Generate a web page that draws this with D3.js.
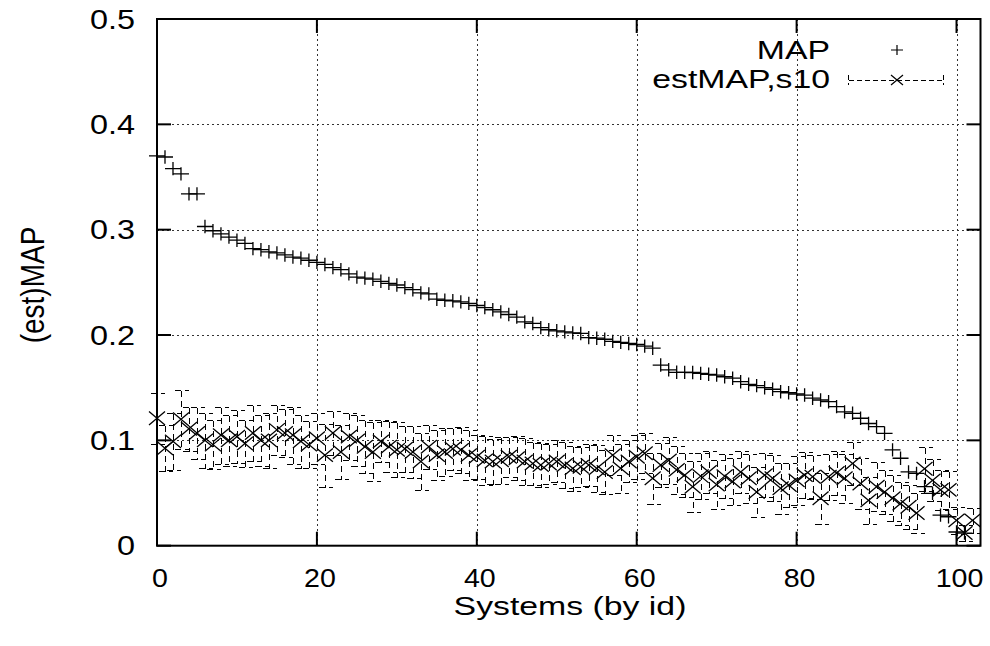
<!DOCTYPE html>
<html>
<head>
<meta charset="utf-8">
<script src="https://cdn.jsdelivr.net/npm/d3@7"></script>
<style>
body { margin: 0; background: #fff; }
text { font-family: "Liberation Sans", Arial, Helvetica, sans-serif; fill: #000; }
</style>
</head>
<body>
<script>
// MAP per system, sorted descending (x = system id)
const mapValues = [
  0.370, 0.369, 0.358, 0.353, 0.334, 0.334, 0.303, 0.299, 0.296, 0.293,
  0.290, 0.287, 0.282, 0.281, 0.279, 0.278, 0.276, 0.274, 0.273, 0.271,
  0.269, 0.267, 0.264, 0.262, 0.258, 0.255, 0.254, 0.253, 0.251, 0.249,
  0.2475, 0.245, 0.243, 0.240, 0.239, 0.234, 0.233, 0.2325, 0.2315, 0.230,
  0.228, 0.226, 0.224, 0.222, 0.2195, 0.217, 0.2125, 0.211, 0.207, 0.205,
  0.204, 0.203, 0.202, 0.2015, 0.1975, 0.197, 0.196, 0.194, 0.193, 0.192,
  0.191, 0.1895, 0.1875, 0.1715, 0.167, 0.1646, 0.1645, 0.1644, 0.1636, 0.1627,
  0.162, 0.1604, 0.159, 0.1557, 0.1532, 0.152, 0.150, 0.1485, 0.1462, 0.1452,
  0.144, 0.143, 0.140, 0.1383, 0.1367, 0.132, 0.127, 0.1257, 0.121, 0.116,
  0.113, 0.1067, 0.091, 0.083, 0.070, 0.0687, 0.056, 0.0497, 0.029, 0.0275,
  0.013, 0.012
];

// estimated MAP (sample 10) per system
const estValues = [
  0.121, 0.0925, 0.099, 0.120, 0.111, 0.107, 0.100, 0.096, 0.105, 0.100,
  0.1035, 0.097, 0.107, 0.100, 0.100, 0.110, 0.107, 0.105, 0.099, 0.096,
  0.102, 0.086, 0.107, 0.089, 0.1035, 0.100, 0.094, 0.089, 0.099, 0.094,
  0.091, 0.092, 0.089, 0.080, 0.094, 0.086, 0.089, 0.092, 0.091, 0.086,
  0.0845, 0.081, 0.080, 0.081, 0.0845, 0.083, 0.080, 0.078, 0.0766, 0.078,
  0.080, 0.0766, 0.0734, 0.075, 0.0766, 0.0734, 0.070, 0.086, 0.0734, 0.080,
  0.0845, 0.0877, 0.064, 0.0766, 0.081, 0.072, 0.067, 0.056, 0.066, 0.070,
  0.058, 0.066, 0.061, 0.070, 0.064, 0.051, 0.067, 0.064, 0.0545, 0.0576,
  0.062, 0.067, 0.0655, 0.045, 0.0655, 0.069, 0.064, 0.078, 0.059, 0.043,
  0.056, 0.051, 0.045, 0.040, 0.037, 0.031, 0.073, 0.062, 0.053, 0.053,
  0.024, 0.012, 0.024
];

// half-width of the error bar on estMAP
const estErr = [
  0.024, 0.022, 0.027, 0.028, 0.021, 0.025, 0.026, 0.023, 0.027, 0.024,
  0.025, 0.022, 0.027, 0.024, 0.026, 0.024, 0.023, 0.027, 0.025, 0.022,
  0.024, 0.030, 0.021, 0.026, 0.022, 0.024, 0.025, 0.028, 0.020, 0.024,
  0.026, 0.022, 0.025, 0.027, 0.021, 0.024, 0.023, 0.020, 0.022, 0.024,
  0.021, 0.023, 0.021, 0.022, 0.019, 0.021, 0.022, 0.020, 0.021, 0.019,
  0.020, 0.022, 0.021, 0.019, 0.020, 0.022, 0.021, 0.019, 0.023, 0.020,
  0.021, 0.019, 0.024, 0.021, 0.022, 0.023, 0.021, 0.024, 0.022, 0.020,
  0.023, 0.021, 0.022, 0.020, 0.023, 0.024, 0.021, 0.022, 0.024, 0.021,
  0.023, 0.022, 0.021, 0.024, 0.022, 0.021, 0.023, 0.020, 0.024, 0.022,
  0.023, 0.021, 0.022, 0.020, 0.021, 0.019, 0.021, 0.020, 0.019, 0.018,
  0.013, 0.008, 0.012
];

const xTicks = [0, 20, 40, 60, 80, 100];
const yTicks = [0, 0.1, 0.2, 0.3, 0.4, 0.5];
const legendLabels = ['MAP', 'estMAP,s10'];

const width = 990, height = 646;
const plot = { left: 157, right: 980.5, top: 19, bottom: 545.7 };

const svg = d3.select('body').append('svg')
  .attr('width', width)
  .attr('height', height);

const x = d3.scaleLinear().domain([0, 103]).range([plot.left, plot.right]);
const y = d3.scaleLinear().domain([0, 0.5]).range([plot.bottom, plot.top]);

// grid
const grid = svg.append('g').attr('class', 'grid')
  .attr('stroke', '#333').attr('stroke-width', 1).attr('stroke-dasharray', '2,3');
grid.selectAll('line.gx')
  .data(xTicks.filter(d => d > 0))
  .enter().append('line')
  .attr('x1', d => Math.round(x(d)) + 0.5).attr('x2', d => Math.round(x(d)) + 0.5)
  .attr('y1', plot.top).attr('y2', plot.bottom);
grid.selectAll('line.gy')
  .data(yTicks.filter(d => d > 0 && d < 0.5))
  .enter().append('line')
  .attr('y1', d => Math.round(y(d)) + 0.5).attr('y2', d => Math.round(y(d)) + 0.5)
  .attr('x1', plot.left).attr('x2', plot.right);

// tick marks on all four sides, pointing inward
const tickLen = 14;
const ticks = svg.append('g').attr('stroke', '#000').attr('stroke-width', 2);
xTicks.forEach(d => {
  ticks.append('line').attr('x1', x(d)).attr('x2', x(d)).attr('y1', plot.bottom).attr('y2', plot.bottom - tickLen);
  ticks.append('line').attr('x1', x(d)).attr('x2', x(d)).attr('y1', plot.top).attr('y2', plot.top + tickLen);
});
yTicks.forEach(d => {
  ticks.append('line').attr('y1', y(d)).attr('y2', y(d)).attr('x1', plot.left).attr('x2', plot.left + tickLen);
  ticks.append('line').attr('y1', y(d)).attr('y2', y(d)).attr('x1', plot.right).attr('x2', plot.right - tickLen);
});

// error bars for estMAP (dashed, with caps)
const capW = 7;
const estData = estValues.map((v, i) => ({ id: i, v, e: estErr[i] }));
svg.append('g').attr('class', 'errorbars')
  .attr('shape-rendering', 'crispEdges')
  .selectAll('path')
  .data(estData)
  .enter().append('path')
  .attr('fill', 'none')
  .attr('stroke', '#000')
  .attr('stroke-width', 1)
  .attr('stroke-dasharray', '6,4')
  .attr('d', d => {
    const cx = Math.round(x(d.id)) + 0.5;
    const top = Math.round(y(d.v + d.e)) + 0.5, bot = Math.round(y(d.v - d.e)) + 0.5;
    return `M${cx - capW},${top}H${cx + capW}M${cx},${top}V${bot}M${cx - capW},${bot}H${cx + capW}`;
  });

const plusPath = 'M-8,0H8M0,-6.7V6.7';
const crossPath = 'M-8,-6.7L8,6.7M-8,6.7L8,-6.7';

// estMAP markers
svg.append('g').attr('class', 'est')
  .selectAll('path')
  .data(estData)
  .enter().append('path')
  .attr('d', crossPath)
  .attr('transform', d => `translate(${x(d.id)},${y(d.v)})`)
  .attr('fill', 'none').attr('stroke', '#000').attr('stroke-width', 1.3);

// MAP markers
svg.append('g').attr('class', 'map')
  .selectAll('path')
  .data(mapValues)
  .enter().append('path')
  .attr('d', plusPath)
  .attr('transform', (d, i) => `translate(${x(i)},${y(d)})`)
  .attr('fill', 'none').attr('stroke', '#000').attr('stroke-width', 1.3);

// frame
svg.append('rect')
  .attr('x', plot.left).attr('y', plot.top)
  .attr('width', plot.right - plot.left).attr('height', plot.bottom - plot.top)
  .attr('fill', 'none').attr('stroke', '#000').attr('stroke-width', 2);

// tick labels
svg.append('g').selectAll('text')
  .data(yTicks)
  .enter().append('text')
  .attr('transform', d => `translate(135,${y(d)}) scale(1.2,1)`)
  .attr('dy', '0.36em')
  .attr('text-anchor', 'end')
  .style('font-size', '27px')
  .text(d => d3.format('')(d));

svg.append('g').selectAll('text')
  .data(xTicks)
  .enter().append('text')
  .attr('transform', d => `translate(${x(d) + 3},587) scale(1.1,1)`)
  .attr('text-anchor', 'middle')
  .style('font-size', '26px')
  .text(d => d);

// axis titles
svg.append('text')
  .attr('transform', 'translate(570,615) scale(1.3,1)')
  .attr('text-anchor', 'middle')
  .style('font-size', '26px')
  .text('Systems (by id)');

svg.append('text')
  .attr('transform', 'translate(44,285) scale(1.2,1) rotate(-90)')
  .attr('text-anchor', 'middle')
  .style('font-size', '28px')
  .text('(est)MAP');

// legend
const legend = svg.append('g').attr('class', 'legend');
legend.selectAll('text')
  .data(legendLabels)
  .enter().append('text')
  .attr('transform', (d, i) => `translate(830,${59 + i * 29}) scale(1.3,1)`)
  .attr('text-anchor', 'end')
  .style('font-size', '26px')
  .text(d => d);

legend.append('path')
  .attr('d', 'M-6,0H6M0,-5V5')
  .attr('transform', 'translate(897,50)')
  .attr('fill', 'none').attr('stroke', '#000').attr('stroke-width', 1.2);

legend.append('path')
  .attr('d', 'M848.5,75V85M848.5,80.5H943M943.5,75V85')
  .attr('fill', 'none').attr('stroke', '#000').attr('stroke-width', 1)
  .attr('shape-rendering', 'crispEdges')
  .attr('stroke-dasharray', '5,3');
legend.append('path')
  .attr('d', 'M-6,-5L6,5M-6,5L6,-5')
  .attr('transform', 'translate(897,80)')
  .attr('fill', 'none').attr('stroke', '#000').attr('stroke-width', 1.2);
</script>
</body>
</html>
